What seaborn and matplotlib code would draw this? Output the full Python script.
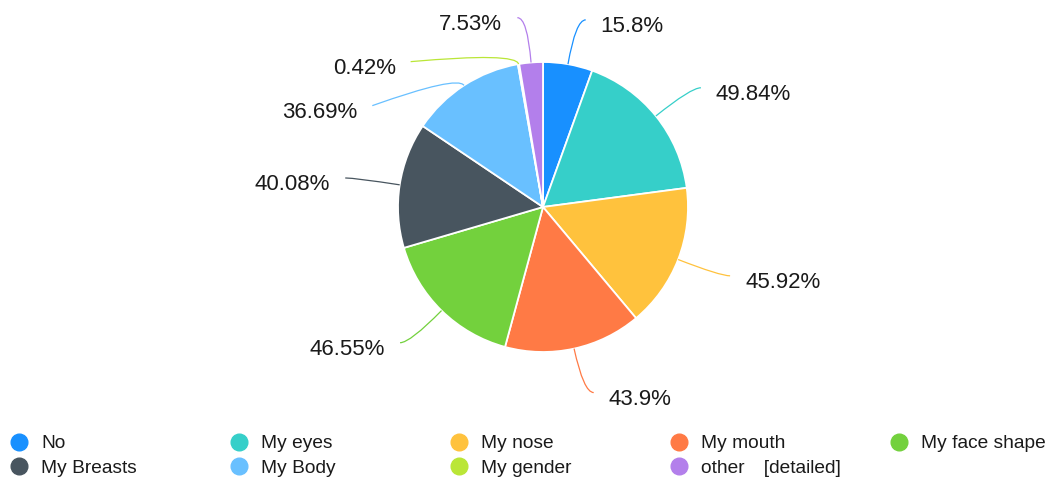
import numpy as np
import matplotlib
matplotlib.use("Agg")
import matplotlib.pyplot as plt
from matplotlib.lines import Line2D
from matplotlib.path import Path
from matplotlib.patches import PathPatch
import seaborn as sns

# Survey answers and their shares (%)
categories = ["No", "My eyes", "My nose", "My mouth", "My face shape",
              "My Breasts", "My Body", "My gender", "other\u2003[detailed]"]
values = [15.8, 49.84, 45.92, 43.9, 46.55, 40.08, 36.69, 0.42, 7.53]
palette = ["#1890FF", "#36CFC9", "#FFC23D", "#FF7A45", "#73D13D",
           "#48555F", "#69C0FF", "#BAE637", "#B37FEB"]

sns.set_theme(style="white")
plt.rcParams["font.family"] = ["Liberation Sans", "DejaVu Sans"]

W, H = 1056, 480
fig = plt.figure(figsize=(W / 100, H / 100), dpi=100)
ax = fig.add_axes([0, 0, 1, 1])

cx, cy, R = 543, 273, 145
colors = sns.color_palette(palette)
wedges, _ = ax.pie(values, colors=colors, startangle=90, counterclock=False,
                   radius=R, center=(cx, cy),
                   wedgeprops=dict(edgecolor="white", linewidth=1.3))
ax.set_xlim(0, W)
ax.set_ylim(0, H)
ax.set_aspect("equal")
ax.axis("off")

# ---- outside labels with smooth leader lines ----
L1, L2, GAP, SPACING = 45, 10, 15, 44
R1 = R + L1
items = []
for w, v, col in zip(wedges, values, colors):
    mid = np.deg2rad((w.theta1 + w.theta2) / 2)
    d = np.array([np.cos(mid), np.sin(mid)])
    side = 1 if d[0] >= 0 else -1
    p0 = np.array([cx, cy]) + R * d
    p1 = np.array([cx, cy]) + R1 * d
    items.append(dict(v=v, col=col, d=d, side=side, p0=p0, p1=p1,
                      y=p1[1], ny=p1[1]))

# push overlapping labels downward on each side
for s in (1, -1):
    group = sorted([it for it in items if it["side"] == s],
                   key=lambda it: -it["ny"])
    prev = None
    for it in group:
        if prev is not None and it["y"] > prev - SPACING:
            it["y"] = prev - SPACING
        prev = it["y"]

for it in items:
    s = it["side"]
    if abs(it["y"] - it["ny"]) > 0.5:
        dy = it["y"] - cy
        x = cx + s * np.sqrt(max(R1 ** 2 - dy ** 2, 0))
        ctrl = np.array([cx, cy]) + (R + 12) * it["d"]
    else:
        x = it["p1"][0]
        ctrl = it["p1"]
    end = np.array([x + s * L2, it["y"]])
    path = Path([it["p0"], ctrl, end], [Path.MOVETO, Path.CURVE3, Path.CURVE3])
    ax.add_patch(PathPatch(path, facecolor="none", edgecolor=it["col"],
                           linewidth=0.9))
    ax.text(end[0] + s * GAP, end[1] - 7, f"{it['v']:g}%",
            ha="left" if s > 0 else "right", va="center",
            fontsize=16, color="#1a1a1a")

# ---- legend: five columns, two rows ----
handles = [Line2D([], [], marker="o", linestyle="", markersize=12,
                  markerfacecolor=c, markeredgecolor=c) for c in colors]
ncol, pitch = 5, 220
for i in range(ncol):
    idx = [j for j in (i, i + ncol) if j < len(categories)]
    fig.legend([handles[j] for j in idx], [categories[j] for j in idx],
               loc="upper left",
               bbox_to_anchor=((7 + i * pitch) / W, 1 - 435 / H),
               frameon=False, fontsize=13.8, handlelength=1.2,
               handletextpad=0.58, labelspacing=0.38, borderpad=0,
               borderaxespad=0, labelcolor="#1a1a1a")

fig.savefig("out.png", dpi=100, facecolor="white")
